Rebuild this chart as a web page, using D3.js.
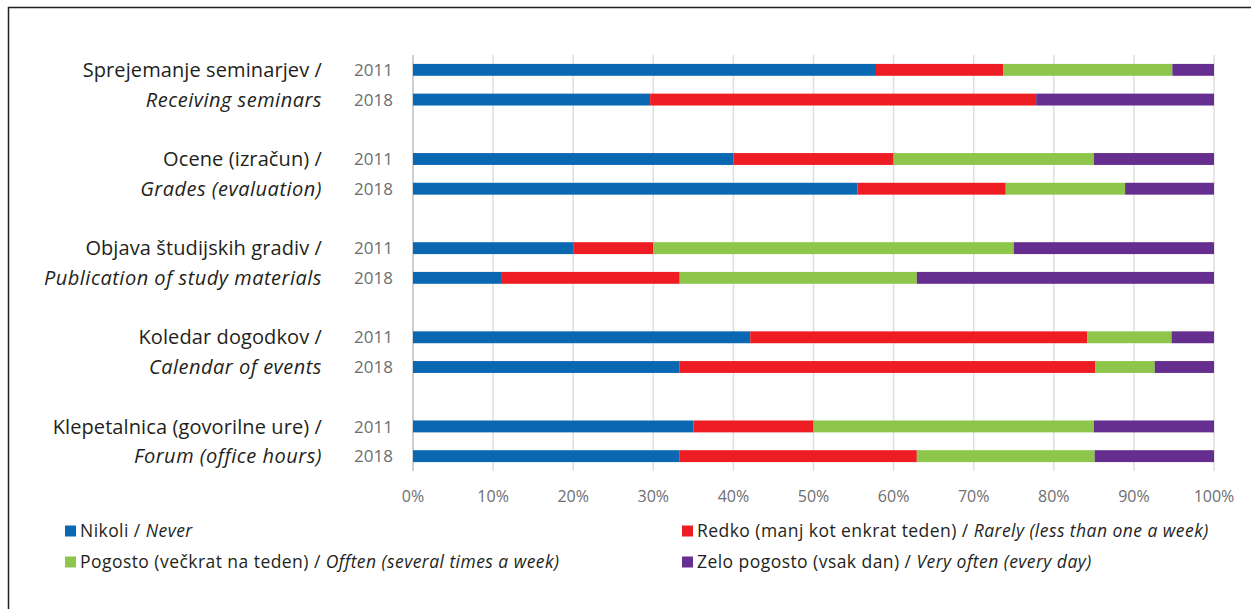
<!DOCTYPE html>
<html>
<head>
<meta charset="utf-8">
<script src="https://cdn.jsdelivr.net/npm/d3@7"></script>
<style>
  body { margin: 0; background: #fff; }
  svg { display: block; font-family: "Open Sans", sans-serif; }
</style>
</head>
<body>
<svg width="1251" height="609"></svg>
<script>
// categories (slovene / english) and years
const catSl = ["Sprejemanje seminarjev /", "Ocene (izračun) /", "Objava študijskih gradiv /", "Koledar dogodkov /", "Klepetalnica (govorilne ure) /"];
const catEn = ["Receiving seminars", "Grades (evaluation)", "Publication of study materials", "Calendar of events", "Forum (office hours)"];
const years = ["2011", "2018"];

// percentages per series, order: cat0 2011, cat0 2018, cat1 2011, ...
const never   = [57.8, 29.6, 40.0, 55.5, 20.0, 11.1, 42.1, 33.3, 35.0, 33.3];
const rarely  = [15.9, 48.2, 20.0, 18.5, 10.0, 22.2, 42.1, 51.9, 15.0, 29.6];
const often   = [21.1,  0.0, 25.0, 14.9, 45.0, 29.6, 10.5,  7.4, 35.0, 22.2];
const veryOft = [ 5.2, 22.2, 15.0, 11.1, 25.0, 37.1,  5.3,  7.4, 15.0, 14.9];

const seriesNames = ["never", "rarely", "often", "veryOft"];
const colors = ["#0a68b3", "#ee1d24", "#8dc64a", "#662e8f"];
const legendSl = ["Nikoli / ", "Redko (manj kot enkrat teden) / ", "Pogosto (večkrat na teden) / ", "Zelo pogosto (vsak dan) / "];
const legendEn = ["Never", "Rarely (less than one a week)", "Offten (several times a week)", "Very often (every day)"];
const ticks = [0, 10, 20, 30, 40, 50, 60, 70, 80, 90, 100];

const rows = never.map((d, i) => ({
  slot: Math.floor(i / 2) * 3 + (i % 2),
  year: years[i % 2],
  never: never[i], rarely: rarely[i], often: often[i], veryOft: veryOft[i]
}));

const svg = d3.select("svg");

// frame
svg.append("path")
  .attr("d", "M8.5,609 V7.5 H1251")
  .attr("fill", "none").attr("stroke", "#231f20").attr("stroke-width", 1.5);

const x = d3.scaleLinear().domain([0, 100]).range([413, 1214]);
const y = d3.scaleBand().domain(d3.range(14)).range([55, 471]).paddingInner(0.6).paddingOuter(0.3);

// gridlines
svg.append("g").selectAll("line")
  .data(ticks.slice(1))
  .join("line")
  .attr("x1", d => x(d)).attr("x2", d => x(d))
  .attr("y1", 55).attr("y2", 471)
  .attr("stroke", "#dedede").attr("stroke-width", 1.5);

svg.append("line")
  .attr("x1", x(0)).attr("x2", x(0)).attr("y1", 55).attr("y2", 471)
  .attr("stroke", "#cfcfcf").attr("stroke-width", 2);

// stacked bars
const stack = d3.stack().keys(seriesNames)(rows);
svg.append("g").selectAll("g")
  .data(stack)
  .join("g")
  .attr("fill", (d, i) => colors[i])
  .selectAll("rect")
  .data(d => d)
  .join("rect")
  .attr("x", d => x(d[0]))
  .attr("width", d => x(d[1]) - x(d[0]))
  .attr("y", d => y(d.data.slot))
  .attr("height", y.bandwidth());

// year labels
svg.append("g").selectAll("text")
  .data(rows)
  .join("text")
  .attr("x", 393)
  .attr("y", d => y(d.slot) + y.bandwidth() / 2)
  .attr("dy", "0.36em")
  .attr("text-anchor", "end")
  .attr("fill", "#6d6e70")
  .attr("font-size", 17)
  .text(d => d.year);

// category labels
const cats = svg.append("g").selectAll("g")
  .data(catSl)
  .join("g");
cats.append("text")
  .attr("x", 322)
  .attr("y", (d, i) => y(i * 3) + y.bandwidth() / 2)
  .attr("dy", "0.36em")
  .attr("text-anchor", "end")
  .attr("fill", "#231f20")
  .attr("font-size", 20)
  .attr("letter-spacing", 0.1)
  .text(d => d);
cats.append("text")
  .attr("x", 322)
  .attr("y", (d, i) => y(i * 3 + 1) + y.bandwidth() / 2)
  .attr("dy", "0.36em")
  .attr("text-anchor", "end")
  .attr("fill", "#231f20")
  .attr("font-size", 20)
  .attr("letter-spacing", 0.5)
  .attr("font-style", "italic")
  .text((d, i) => catEn[i]);

// x axis tick labels
svg.append("g").selectAll("text")
  .data(ticks)
  .join("text")
  .attr("x", d => x(d))
  .attr("y", 496)
  .attr("dy", "0.36em")
  .attr("text-anchor", "middle")
  .attr("fill", "#6d6e70")
  .attr("font-size", 16)
  .text(d => d + "%");

// legend
const legPos = [[65, 531], [682, 531], [65, 562], [682, 562]];
const leg = svg.append("g").selectAll("g")
  .data(legendSl)
  .join("g")
  .attr("transform", (d, i) => `translate(${legPos[i][0]},${legPos[i][1]})`);
leg.append("rect")
  .attr("x", 0).attr("y", -5.5).attr("width", 11).attr("height", 11)
  .attr("fill", (d, i) => colors[i]);
const lt = leg.append("text")
  .attr("x", 15)
  .attr("dy", "0.36em")
  .attr("fill", "#231f20")
  .attr("font-size", 17.5)
  .attr("letter-spacing", 0.45);
lt.append("tspan").text(d => d);
lt.append("tspan").attr("font-style", "italic").text((d, i) => legendEn[i]);
</script>
</body>
</html>
